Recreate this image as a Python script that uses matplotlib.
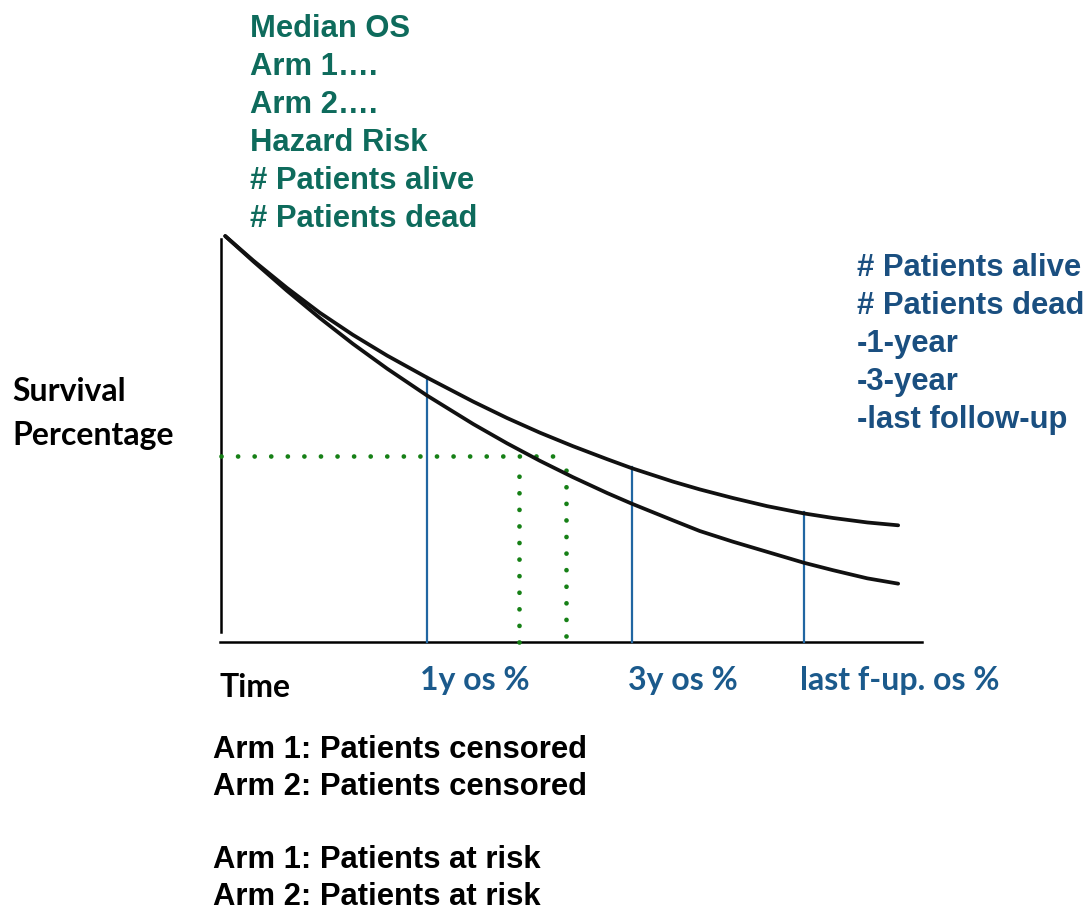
import matplotlib
matplotlib.use("Agg")
import matplotlib.pyplot as plt

# schematic survival curves (time units 0-100, survival %)
t = [0.6, 4.6, 9.4, 14.1, 18.8, 23.7, 29.4, 36.0, 40.8, 45.5, 50.2,
     55.1, 58.6, 64.5, 68.3, 73.0, 77.9, 83.2, 87.3, 92.2, 96.6]
arm_upper = [99.5, 93.5, 86.8, 80.7, 75.3, 70.2, 64.8, 58.9, 54.9, 51.3, 48.0,
             44.8, 42.6, 39.3, 37.4, 35.3, 33.3, 31.5, 30.4, 29.3, 28.6]
arm_lower = [99.5, 93.3, 86.1, 79.4, 73.1, 67.0, 60.4, 53.4, 48.7, 44.4, 40.4,
             36.5, 33.9, 29.8, 27.2, 24.6, 22.1, 19.4, 17.6, 15.6, 14.3]

# time points marked with blue lines and how high they reach
mark_t = [29.4, 58.6, 83.2]
mark_top = [65.0, 42.9, 31.9]
mark_labels = ["1y os %", "3y os %", "last f-up. os %"]

# median lines
median_y = 45.6
median_x_end = 48.2
median_t = [42.5, 49.2]
median_t_top = [41.7, 42.6]
median_t_bottom = [0.0, 1.5]

top_lines = ["Median OS", "Arm 1….", "Arm 2….", "Hazard Risk",
             "# Patients alive", "# Patients dead"]
right_lines = ["# Patients alive", "# Patients dead", "-1-year", "-3-year",
               "-last follow-up"]
bottom_lines = ["Arm 1: Patients censored", "Arm 2: Patients censored", "",
                "Arm 1: Patients at risk", "Arm 2: Patients at risk"]

W, H = 1088, 912
fig = plt.figure(figsize=(W / 100, H / 100), dpi=100)
ax = fig.add_axes([221 / W, (H - 643) / H, 701 / W, 408 / H])
ax.set_xlim(0, 100)
ax.set_ylim(0, 100)
ax.axis("off")


def px(x, y):
    return x / W, 1 - y / H


# axes drawn by hand, they do not meet
ax.plot([0, 0], [2.5, 98.8], color="black", lw=1.8, clip_on=False)
ax.plot([-0.2, 100], [0, 0], color="black", lw=1.8, clip_on=False)

blue_line = "#2166a2"
for x, top in zip(mark_t, mark_top):
    ax.plot([x, x], [0, top], color=blue_line, lw=1.6, clip_on=False)

green = "#168016"
dots = dict(color=green, lw=3.4, linestyle=(0, (0.01, 3.5)),
            dash_capstyle="round", clip_on=False)
ax.plot([0, median_x_end], [median_y, median_y], **dots)
for x, y0, y1 in zip(median_t, median_t_bottom, median_t_top):
    ax.plot([x, x], [y0, y1], **dots)

for arm in (arm_upper, arm_lower):
    ax.plot(t, arm, color="#111111", lw=2.7, solid_capstyle="round",
            solid_joinstyle="round", clip_on=False)

helv = "Liberation Sans"
cal = "Lato"
fs = 22.3

for i, s in enumerate(top_lines):
    fig.text(*px(250, 37 + 38 * i), s, fontsize=fs, fontweight="bold",
             family=helv, color="#0e6b5c", va="baseline")

for i, s in enumerate(right_lines):
    fig.text(*px(857, 276 + 38 * i), s, fontsize=fs, fontweight="bold",
             family=helv, color="#1a4f80", va="baseline")

for i, s in enumerate(bottom_lines):
    if s:
        fig.text(*px(213, 758 + 36.8 * i), s, fontsize=fs, fontweight="bold",
                 family=helv, color="black", va="baseline")

fig.text(*px(12, 401), "Survival", fontsize=23, fontweight="bold",
         family=cal, color="black", va="baseline")
fig.text(*px(12, 445), "Percentage", fontsize=23, fontweight="bold",
         family=cal, color="black", va="baseline")
fig.text(*px(220, 697), "Time", fontsize=23, fontweight="bold",
         family=cal, color="black", va="baseline")

label_x = [420, 628, 800]
for x, s in zip(label_x, mark_labels):
    fig.text(*px(x, 690), s, fontsize=23, fontweight="bold", family=cal,
             color="#1b5a8c", va="baseline")

fig.savefig("out.png", dpi=100, facecolor="white")
